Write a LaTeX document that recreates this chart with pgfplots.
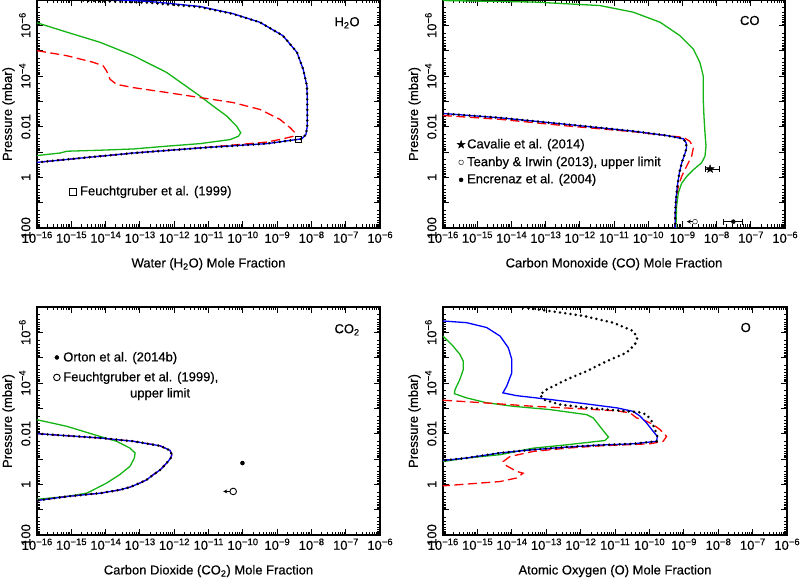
\documentclass[border=0pt]{standalone}
\usepackage{fontspec}
\setmainfont[FakeBold=0.4,AutoFakeBold=0.4]{Liberation Sans}
\usepackage{pgfplots}
\pgfplotsset{compat=1.18}
\usetikzlibrary{arrows.meta}
\definecolor{cblue}{RGB}{0,0,255}
\definecolor{cred}{RGB}{255,0,0}
\definecolor{cgreen}{RGB}{20,180,20}
\newcommand\tl[1]{10\raisebox{0.36em}{\fontsize{9.5}{10}\selectfont −#1}}
\pgfdeclareplotmark{fstar}{%
 \pgfpathmoveto{\pgfpointpolar{90}{\pgfplotmarksize}}%
 \pgfpathlineto{\pgfpointpolar{126}{0.40\pgfplotmarksize}}%
 \pgfpathlineto{\pgfpointpolar{162}{\pgfplotmarksize}}%
 \pgfpathlineto{\pgfpointpolar{198}{0.40\pgfplotmarksize}}%
 \pgfpathlineto{\pgfpointpolar{234}{\pgfplotmarksize}}%
 \pgfpathlineto{\pgfpointpolar{270}{0.40\pgfplotmarksize}}%
 \pgfpathlineto{\pgfpointpolar{306}{\pgfplotmarksize}}%
 \pgfpathlineto{\pgfpointpolar{342}{0.40\pgfplotmarksize}}%
 \pgfpathlineto{\pgfpointpolar{18}{\pgfplotmarksize}}%
 \pgfpathlineto{\pgfpointpolar{54}{0.40\pgfplotmarksize}}%
 \pgfpathclose
 \pgfusepathqfillstroke}
\pgfplotsset{
 every axis/.append style={
  scale only axis, width=343pt, height=228pt,
  xmin=1e-16, xmax=1e-6, ymin=1e-7, ymax=100,
  y dir=reverse,
  xtick={1e-16,1e-15,1e-14,1e-13,1e-12,1e-11,1e-10,1e-9,1e-8,1e-7,1e-6},
  xticklabels={\tl{16},\tl{15},\tl{14},\tl{13},\tl{12},\tl{11},\tl{10},\tl{9},\tl{8},\tl{7},\tl{6}},
  minor xtick={2e-16,3e-16,4e-16,5e-16,6e-16,7e-16,8e-16,9e-16,
   2e-15,3e-15,4e-15,5e-15,6e-15,7e-15,8e-15,9e-15,
   2e-14,3e-14,4e-14,5e-14,6e-14,7e-14,8e-14,9e-14,
   2e-13,3e-13,4e-13,5e-13,6e-13,7e-13,8e-13,9e-13,
   2e-12,3e-12,4e-12,5e-12,6e-12,7e-12,8e-12,9e-12,
   2e-11,3e-11,4e-11,5e-11,6e-11,7e-11,8e-11,9e-11,
   2e-10,3e-10,4e-10,5e-10,6e-10,7e-10,8e-10,9e-10,
   2e-9,3e-9,4e-9,5e-9,6e-9,7e-9,8e-9,9e-9,
   2e-8,3e-8,4e-8,5e-8,6e-8,7e-8,8e-8,9e-8,
   2e-7,3e-7,4e-7,5e-7,6e-7,7e-7,8e-7,9e-7},
  ytick={1e-7,1e-6,1e-5,1e-4,1e-3,1e-2,1e-1,1,10,100},
  yticklabels={,\tl{6},,\tl{4},,0.01,,1,,100},
  minor ytick={2e-7,3e-7,4e-7,5e-7,6e-7,7e-7,8e-7,9e-7,
   2e-6,3e-6,4e-6,5e-6,6e-6,7e-6,8e-6,9e-6,
   2e-5,3e-5,4e-5,5e-5,6e-5,7e-5,8e-5,9e-5,
   2e-4,3e-4,4e-4,5e-4,6e-4,7e-4,8e-4,9e-4,
   2e-3,3e-3,4e-3,5e-3,6e-3,7e-3,8e-3,9e-3,
   2e-2,3e-2,4e-2,5e-2,6e-2,7e-2,8e-2,9e-2,
   0.2,0.3,0.4,0.5,0.6,0.7,0.8,0.9,
   2,3,4,5,6,7,8,9,
   20,30,40,50,60,70,80,90},
  axis line style={line width=1.6pt},
  tick style={line width=0.9pt, black},
  major tick length=6.5pt, minor tick length=3.5pt,
  tick label style={font=\fontsize{13}{15}\selectfont},
  yticklabel style={rotate=90, anchor=south},
  yticklabel shift=3pt,
  label style={font=\fontsize{13}{15}\selectfont},
  ylabel={Pressure (mbar)},
  ylabel style={at={(axis description cs:-0.083,0.5)}, anchor=center},
  xlabel style={at={(axis description cs:0.5,-0.173)}, anchor=base},
 },
 gr/.style={cgreen, line width=1.3pt},
 rd/.style={cred, line width=1.3pt, dash pattern=on 9pt off 4.5pt},
 bl/.style={cblue, line width=1.3pt},
 bk/.style={black, line width=2.8pt, dash pattern=on 0pt off 5.3pt, line cap=round},
}
\tikzset{lab/.style={font=\fontsize{13}{15}\selectfont}, leg/.style={font=\fontsize{13}{15}\selectfont, anchor=west, inner sep=0pt}}
\begin{document}
\begin{tikzpicture}[x=1pt,y=1pt]
\path[use as bounding box] (0,0) rectangle (800,580);
% ---------------- H2O
\begin{loglogaxis}[at={(37pt,352pt)}, anchor=south west,
  xlabel={Water (H\textsubscript{2}O) Mole Fraction}]
\addplot[gr] coordinates {(1e-16,7.94e-7) (7.41e-16,1.86e-6) (6.92e-15,4.68e-6) (6.46e-14,1.58e-5) (6.03e-13,7.24e-5) (5.62e-12,6.17e-4) (1.38e-11,1.55e-3) (3.39e-11,3.80e-3) (6.61e-11,9.55e-3) (8.71e-11,1.74e-2) (7.41e-11,2.40e-2) (4.27e-11,3.24e-2) (5.62e-12,4.68e-2) (6.03e-13,5.89e-2) (6.46e-14,7.59e-2) (6.92e-15,8.51e-2) (7.41e-16,9.33e-2) (4.68e-16,0.110) (1e-16,0.138)};
\addplot[rd] coordinates {(1e-16,1e-5) (7.41e-16,1.58e-5) (4.37e-15,2.88e-5) (8.51e-15,3.98e-5) (1.07e-14,6.31e-5) (1.35e-14,1.35e-4) (2.09e-14,2.14e-4) (6.46e-14,2.88e-4) (6.03e-13,4.47e-4) (5.62e-12,7.08e-4) (5.25e-11,1.12e-3) (3.16e-10,2.09e-3) (1.20e-9,5.13e-3) (2.40e-9,1.10e-2) (3.31e-9,1.74e-2) (2.95e-9,2.40e-2) (1.48e-9,3.02e-2) (5.01e-10,4.07e-2) (5.62e-12,6.92e-2) (6.46e-14,0.110) (2.24e-15,0.170) (1e-16,0.257)};
\addplot[bl] coordinates {(5.5e-15,8.9e-8) (2.0e-13,1.15e-7) (5.62e-12,1.8e-7) (5.13e-11,3.45e-7) (3.16e-10,7.59e-7) (1.48e-9,2.57e-6) (3.80e-9,1.17e-5) (5.75e-9,5.37e-5) (7.41e-9,2.45e-4) (7.59e-9,8.32e-4) (7.59e-9,9.55e-3) (6.92e-9,2.04e-2) (5.25e-9,3.02e-2) (5.01e-10,4.68e-2) (5.62e-12,6.92e-2) (6.46e-14,0.110) (2.24e-15,0.170) (1e-16,0.257)};
\addplot[bk] coordinates {(2.24e-15,1.05e-7) (1.95e-13,1.29e-7) (5.62e-12,1.91e-7) (5.13e-11,3.55e-7) (3.16e-10,7.59e-7) (1.48e-9,2.57e-6) (3.80e-9,1.17e-5) (5.75e-9,5.37e-5) (7.41e-9,2.45e-4) (7.59e-9,8.32e-4) (7.59e-9,9.55e-3) (6.92e-9,2.04e-2) (5.25e-9,3.02e-2) (5.01e-10,4.68e-2) (5.62e-12,6.92e-2) (6.46e-14,0.110) (2.24e-15,0.170) (1e-16,0.257)};
\addplot[only marks, mark=square, mark size=3.3pt, black, line width=1pt] coordinates {(4.17e-9,3.24e-2) (1.12e-15,3.72)};
\node[lab] at (rel axis cs:0.904,0.9) {H\textsubscript{2}O};
\node[leg] at (rel axis cs:0.125,0.158) {Feuchtgruber et al. (1999)};
\end{loglogaxis}
% ---------------- CO
\begin{loglogaxis}[at={(443pt,352pt)}, anchor=south west, width=342pt,
  xlabel={Carbon Monoxide (CO) Mole Fraction}]
\addplot[gr] coordinates {(1e-16,1.05e-7) (4.37e-14,1.20e-7) (3.89e-12,1.66e-7) (3.63e-11,3.02e-7) (2.24e-10,7.59e-7) (8.51e-10,2.57e-6) (2.09e-9,8.71e-6) (3.24e-9,2.88e-5) (4.07e-9,1e-4) (4.07e-9,8.32e-4) (4.27e-9,3.80e-3) (4.57e-9,1.74e-2) (4.90e-9,5.89e-2) (4.57e-9,0.148) (3.63e-9,0.269) (2.09e-9,0.501) (1.35e-9,0.912) (9.55e-10,1.70) (7.59e-10,4.17) (6.76e-10,14.1) (6.46e-10,100)};
\addplot[rd] coordinates {(1e-16,3.63e-3) (4.68e-15,5.13e-3) (4.17e-13,9.33e-3) (3.63e-11,1.58e-2) (5.37e-10,2.40e-2) (1.07e-9,2.63e-2) (1.66e-9,3.80e-2) (2.09e-9,6.92e-2) (1.86e-9,0.148) (1.32e-9,0.372) (9.55e-10,0.912) (7.59e-10,2.29) (6.46e-10,7.76) (6.17e-10,26.3) (6.17e-10,100)};
\addplot[bl] coordinates {(1e-16,3.02e-3) (4.68e-15,4.47e-3) (4.17e-13,8.13e-3) (3.63e-11,1.51e-2) (3.47e-10,2.24e-2) (1.07e-9,3.02e-2) (1.29e-9,4.37e-2) (1.32e-9,6.92e-2) (1.20e-9,0.110) (9.55e-10,0.269) (8.13e-10,0.676) (7.08e-10,2.29) (6.46e-10,7.76) (6.17e-10,26.3) (6.17e-10,100)};
\addplot[bk] coordinates {(1e-16,3.02e-3) (4.68e-15,4.47e-3) (4.17e-13,8.13e-3) (3.63e-11,1.51e-2) (3.47e-10,2.24e-2) (1.07e-9,3.02e-2) (1.29e-9,4.37e-2) (1.32e-9,6.92e-2) (1.20e-9,0.110) (9.55e-10,0.269) (8.13e-10,0.676) (7.08e-10,2.29) (6.46e-10,7.76) (6.17e-10,26.3) (6.17e-10,100)};
\addplot[black, line width=0.9pt, arrows={Bar[width=6pt]-Bar[width=6pt]}] coordinates {(4.57e-9,0.468) (1.26e-8,0.468)};
\addplot[only marks, mark=fstar, mark size=4.2pt, black] coordinates {(6.46e-9,0.468) (3.39e-16,5.13e-2)};
\addplot[black, line width=0.9pt, arrows={-Stealth[length=4pt,width=4pt]}] coordinates {(2.0e-9,56.2) (1.35e-9,56.2)};
\addplot[only marks, mark=*, mark size=2.4pt, black, mark options={fill=white}] coordinates {(2.34e-9,56.2) (3.39e-16,0.257)};
\addplot[black, line width=0.9pt, arrows={Bar[width=6pt]-Bar[width=6pt]}] coordinates {(1.58e-8,56.2) (6.03e-8,56.2)};
\addplot[only marks, mark=*, mark size=2pt, black] coordinates {(3.09e-8,56.2) (3.39e-16,1.26)};
\node[lab] at (rel axis cs:0.897,0.91) {CO};
\node[leg] at (rel axis cs:0.070,0.364) {Cavalie et al. (2014)};
\node[leg] at (rel axis cs:0.070,0.286) {Teanby \& Irwin (2013), upper limit};
\node[leg] at (rel axis cs:0.070,0.211) {Encrenaz et al. (2004)};
\end{loglogaxis}
% ---------------- CO2
\begin{loglogaxis}[at={(37pt,45pt)}, anchor=south west,
  xlabel={Carbon Dioxide (CO\textsubscript{2}) Mole Fraction}]
\addplot[gr] coordinates {(1e-16,2.82e-3) (7.41e-16,5.13e-3) (6.92e-15,1.29e-2) (2.09e-14,2.0e-2) (5.13e-14,3.72e-2) (7.24e-14,5.75e-2) (6.92e-14,9.12e-2) (5.13e-14,0.195) (2.57e-14,0.417) (1.07e-14,0.891) (4.37e-15,1.66) (2.82e-15,2.24) (7.41e-16,3.02) (1e-16,3.89)};
\addplot[rd] coordinates {(1e-16,1e-2) (6.92e-15,1.48e-2) (6.46e-14,2.0e-2) (3.89e-13,3.02e-2) (7.59e-13,4.57e-2) (8.51e-13,6.76e-2) (7.94e-13,9.12e-2) (6.03e-13,0.145) (3.89e-13,0.269) (2.45e-13,0.417) (1.58e-13,0.661) (1e-13,0.891) (5.13e-14,1.29) (2.57e-14,1.66) (6.92e-15,2.24) (7.41e-16,3.02) (1e-16,4.37)};
\addplot[bl] coordinates {(1e-16,1e-2) (6.92e-15,1.48e-2) (6.46e-14,2.0e-2) (3.89e-13,3.02e-2) (7.59e-13,4.57e-2) (8.51e-13,6.76e-2) (7.94e-13,9.12e-2) (6.03e-13,0.145) (3.89e-13,0.269) (2.45e-13,0.417) (1.58e-13,0.661) (1e-13,0.891) (5.13e-14,1.29) (2.57e-14,1.66) (6.92e-15,2.24) (7.41e-16,3.02) (1e-16,4.37)};
\addplot[bk] coordinates {(1e-16,1e-2) (6.92e-15,1.48e-2) (6.46e-14,2.0e-2) (3.89e-13,3.02e-2) (7.59e-13,4.57e-2) (8.51e-13,6.76e-2) (7.94e-13,9.12e-2) (6.03e-13,0.145) (3.89e-13,0.269) (2.45e-13,0.417) (1.58e-13,0.661) (1e-13,0.891) (5.13e-14,1.29) (2.57e-14,1.66) (6.92e-15,2.24) (7.41e-16,3.02) (1e-16,4.37)};
\addplot[black, line width=1.2pt, arrows={Bar[width=4pt]-Bar[width=4pt]}] coordinates {(8.9e-11,0.145) (1.07e-10,0.145)};
\addplot[only marks, mark=*, mark size=2pt, black] coordinates {(9.77e-11,0.145) (3.8e-16,9.8e-6)};
\addplot[black, line width=0.9pt, arrows={-Stealth[length=4pt,width=4pt]}] coordinates {(4.17e-11,1.91) (2.69e-11,1.91)};
\addplot[only marks, mark=*, mark size=3.3pt, black, line width=0.9pt, mark options={fill=white}] coordinates {(5.25e-11,1.91) (3.8e-16,6.03e-5)};
\node[lab] at (rel axis cs:0.904,0.90) {CO\textsubscript{2}};
\node[leg] at (rel axis cs:0.076,0.776) {Orton et al. (2014b)};
\node[leg] at (rel axis cs:0.076,0.689) {Feuchtgruber et al. (1999),};
\node[leg, anchor=center] at (rel axis cs:0.359,0.618) {upper limit};
\end{loglogaxis}
% ---------------- O
\begin{loglogaxis}[at={(443pt,45pt)}, anchor=south west, width=344pt,
  xlabel={Atomic Oxygen (O) Mole Fraction}]
\addplot[gr] coordinates {(1e-16,1.41e-6) (1.95e-16,3.47e-6) (3.09e-16,7.41e-6) (3.89e-16,1.38e-5) (3.89e-16,2.95e-5) (3.09e-16,7.24e-5) (2.24e-16,1.82e-4) (2.14e-16,2.63e-4) (4.90e-16,3.89e-4) (1.86e-15,6.03e-4) (1.10e-14,8.32e-4) (1.29e-13,1.12e-3) (1.51e-12,1.78e-3) (2.34e-12,2.40e-3) (3.63e-12,5.13e-3) (5.13e-12,9.33e-3) (6.46e-12,1.35e-2) (5.13e-12,1.86e-2) (3.98e-13,2.75e-2) (4.27e-14,3.72e-2) (1.38e-14,5.01e-2) (4.57e-15,6.76e-2) (4.90e-16,9.12e-2) (1e-16,0.126)};
\addplot[rd] coordinates {(1e-16,4.79e-4) (1.48e-15,6.03e-4) (4.27e-14,8.32e-4) (1.20e-12,1.05e-3) (1.12e-11,1.26e-3) (2.75e-11,1.51e-3) (4.27e-11,2.40e-3) (6.61e-11,2.82e-3) (1.29e-10,4.37e-3) (2.04e-10,6.92e-3) (3.16e-10,1.29e-2) (2.51e-10,2.0e-2) (1.05e-10,2.51e-2) (3.63e-12,3.02e-2) (3.98e-13,3.72e-2) (4.27e-14,5.01e-2) (8.91e-15,7.94e-2) (5.62e-15,0.126) (7.08e-15,0.186) (1.38e-14,0.309) (2.14e-14,0.363) (1.38e-14,0.562) (4.57e-15,0.776) (4.90e-16,0.977) (1e-16,1.15)};
\addplot[bl] coordinates {(1e-16,3.55e-7) (4.90e-16,4.17e-7) (1.86e-15,6.46e-7) (4.57e-15,1.41e-6) (7.94e-15,4.07e-6) (1e-14,1.17e-5) (1e-14,3.98e-5) (7.08e-15,1.35e-4) (5.50e-15,2.45e-4) (1.38e-14,3.16e-4) (1.29e-13,4.47e-4) (1.20e-12,6.46e-4) (1.12e-11,9.55e-4) (3.39e-11,1.32e-3) (5.37e-11,2.04e-3) (8.32e-11,3.80e-3) (1.29e-10,8.13e-3) (1.70e-10,1.29e-2) (1.62e-10,2.0e-2) (3.39e-11,2.51e-2) (3.63e-12,2.82e-2) (3.98e-13,3.39e-2) (4.27e-14,4.27e-2) (4.57e-15,5.75e-2) (4.90e-16,9.12e-2) (1e-16,0.115)};
\addplot[bk] coordinates {(2.14e-14,1.05e-7) (1.29e-13,1.45e-7) (1.20e-12,2.24e-7) (8.91e-12,4.17e-7) (3.39e-11,8.91e-7) (4.47e-11,1.62e-6) (3.80e-11,3.02e-6) (2.19e-11,6.31e-6) (5.75e-12,1.38e-5) (1.51e-12,3.39e-5) (3.98e-13,7.24e-5) (1.02e-13,1.82e-4) (6.61e-14,2.88e-4) (8.32e-14,4.47e-4) (2.51e-13,7.08e-4) (1.51e-12,9.55e-4) (1.12e-11,1.20e-3) (5.37e-11,1.45e-3) (8.32e-11,1.78e-3) (1.17e-10,3.24e-3) (1.45e-10,6.92e-3) (1.70e-10,1.29e-2) (1.62e-10,2.0e-2) (3.39e-11,2.51e-2) (3.63e-12,2.82e-2) (3.98e-13,3.39e-2) (4.27e-14,4.27e-2) (4.57e-15,5.75e-2) (4.90e-16,9.12e-2) (1e-16,0.115)};
\node[lab] at (rel axis cs:0.88,0.91) {O};
\end{loglogaxis}
\end{tikzpicture}
\end{document}
